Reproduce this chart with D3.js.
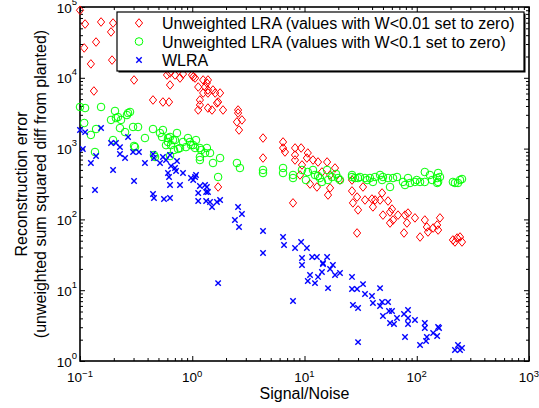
<!DOCTYPE html>
<html>
<head>
<meta charset="utf-8">
<script src="https://cdn.jsdelivr.net/npm/d3@7"></script>
<style>
  body { margin: 0; background: #fff; }
  svg { font-family: "Liberation Sans", Arial, sans-serif; }
</style>
</head>
<body>
<div class="chart"></div>
<script>
// axis ticks (powers of ten) and their exponent labels
var xMajor = [0.1, 1, 10, 100, 1000],
    xExp = ["\u22121", "0", "1", "2", "3"];
var yMajor = [1, 10, 100, 1000, 1e4, 1e5],
    yExp = ["0", "1", "2", "3", "4", "5"];

var legendLabels = [
    "Unweighted LRA (values with W<0.01 set to zero)",
    "Unweighted LRA (values with W<0.1 set to zero)",
    "WLRA"
];

// Unweighted LRA, W<0.01 zeroed (red diamonds)
var lra001SN = [0.1, 0.111, 0.154, 0.197, 0.189, 0.139, 0.109, 0.193, 0.125, 0.303,
    0.133, 0.447, 0.548, 0.621, 0.596, 0.634, 0.702, 0.778, 0.827, 0.995,
    1.02, 1.06, 0.634, 1.25, 1.35, 1.38, 1.13, 1.30, 1.38, 1.25,
    1.53, 1.38, 1.60, 1.77, 1.17, 1.17, 1.13, 1.38, 1.50, 1.66,
    1.70, 1.88, 2.56, 2.56, 2.50, 2.77, 2.61, 1.70, 4.27, 4.27,
    6.44, 6.44, 6.70, 8.24, 9.33, 8.23, 8.23, 10.7, 10.5, 11.9,
    13.2, 15.9, 9.50, 18.7, 14.3, 16.9, 11.2, 12.9, 16.9, 16.2,
    7.90, 9.12, 20.7, 26.5, 26.5, 33.2, 29.4, 27.0, 30.0, 34.6,
    39.9, 40.7, 42.5, 47.1, 49.1, 55.5, 50.0, 57.8, 60.2, 57.8,
    61.5, 68.1, 78.6, 83.6, 81.8, 96.4, 107, 77.0, 29.4, 118,
    123, 126, 140, 152, 161, 155, 210, 229, 243, 253, 219];
var lra001Err = [90000, 57500, 61400, 59400, 44400, 32000, 26400, 17800, 15700, 9310,
    6510, 4860, 4550, 4550, 10950, 11700, 10950, 9930, 11300, 10950,
    10300, 9930, 7910, 9310, 8450, 9310, 7410, 7410, 6720, 6100,
    6720, 6100, 6100, 6100, 4860, 4130, 3510, 3740, 3510, 4410,
    4550, 3510, 3510, 3180, 2380, 2540, 1830, 287, 1410, 736,
    1240, 1020, 895, 1020, 1020, 812, 690, 867, 736, 690,
    647, 647, 587, 532, 467, 424, 316, 287, 278, 221,
    171, 424, 360, 360, 252, 287, 207, 171, 136, 188,
    194, 150, 188, 188, 236, 182, 115, 127, 140, 89,
    98, 115, 115, 123, 89, 105, 56.4, 64.3, 64.3, 98,
    78.1, 66.4, 75.6, 83.3, 105, 70.8, 51.2, 54.6, 56.4, 48.0, 48.0];

// Unweighted LRA, W<0.1 zeroed (green circles)
var lra01SN = [0.100, 0.111, 0.154, 0.205, 0.268, 0.279, 0.218, 0.209, 0.189, 0.232,
    0.109, 0.139, 0.125, 0.227, 0.297, 0.329, 0.447, 0.548, 0.516, 0.634,
    0.731, 0.702, 0.608, 0.584, 0.647, 0.747, 0.827, 0.975, 1.08, 1.06,
    1.20, 1.30, 1.17, 0.379, 0.197, 0.309, 0.136, 0.456, 0.466, 0.634,
    0.608, 0.674, 0.955, 1.02, 1.17, 1.35, 0.778, 1.44, 1.77, 1.17,
    1.53, 1.70, 2.50, 2.66, 4.27, 4.27, 6.44, 6.44, 7.90, 7.90,
    9.50, 10.7, 11.9, 12.4, 13.7, 15.9, 17.6, 19.1, 19.9, 14.3,
    20.7, 26.5, 26.5, 30.0, 34.6, 38.3, 42.5, 47.1, 49.1, 55.5,
    57.8, 66.7, 75.4, 78.6, 83.6, 96.4, 107, 118, 118, 131,
    152, 155, 155, 210, 219, 243, 253, 0.262, 0.252, 0.303,
    28.2, 40.7, 61.5, 137, 161, 31.2, 36.1, 50.0, 87.1, 100,
    152, 233, 10.3, 13.2, 16.2, 0.879, 0.688, 0.538, 0.916];
var lra01Err = [3870, 3740, 3870, 3400, 3180, 3290, 2790, 2700, 2540, 2540,
    2300, 1890, 1560, 1950, 2020, 2020, 1890, 1830, 1660, 1460,
    1660, 1320, 1240, 1120, 1120, 987, 1240, 1120, 1320, 1020,
    955, 867, 761, 1410, 1320, 1050, 895, 812, 761, 786,
    1410, 1320, 1240, 1120, 1020, 1020, 1020, 867, 736, 690,
    626, 397, 626, 532, 499, 452, 532, 452, 424, 384,
    499, 467, 499, 424, 384, 499, 397, 438, 384, 338,
    360, 424, 397, 384, 384, 384, 397, 424, 360, 384,
    287, 397, 338, 306, 384, 338, 338, 338, 467, 424,
    384, 452, 338, 338, 327, 360, 372, 2980, 1710, 1090,
    384, 338, 384, 360, 397, 397, 360, 397, 327, 360,
    327, 327, 360, 410, 360, 1050, 955, 1460, 1410];

// WLRA (blue crosses)
var wlraSN = [0.100, 0.111, 0.154, 0.189, 0.209, 0.227, 0.268, 0.106, 0.139, 0.227,
    0.252, 0.297, 0.335, 0.125, 0.197, 0.379, 0.447, 0.456, 0.516, 0.548,
    0.584, 0.634, 0.647, 0.702, 0.731, 0.717, 0.608, 0.621, 0.827, 0.634,
    0.778, 0.975, 1.06, 1.08, 1.02, 1.17, 1.30, 1.13, 1.33, 1.33,
    0.303, 0.136, 0.447, 0.456, 0.560, 0.634, 1.13, 1.35, 1.38, 1.44,
    1.66, 1.77, 1.50, 2.56, 2.77, 2.40, 2.61, 4.27, 6.44, 6.57,
    8.24, 9.33, 10.5, 11.7, 9.50, 12.9, 15.9, 9.50, 14.6, 17.9,
    4.27, 1.70, 7.90, 11.2, 10.7, 12.4, 13.2, 14.3, 14.6, 16.9,
    18.7, 20.7, 16.2, 26.5, 26.5, 29.4, 27.0, 30.0, 30.0, 33.2,
    34.6, 39.9, 40.7, 47.1, 47.1, 49.1, 55.5, 56.6, 60.2, 50.0,
    57.8, 62.7, 66.7, 77.0, 83.6, 83.6, 83.6, 78.6, 96.4, 107,
    118, 118, 123, 121, 140, 152, 155, 158, 219, 233, 253, 243];
var wlraErr = [1830, 1710, 1950, 1200, 1200, 1050, 1460, 987, 786, 839,
    736, 895, 895, 626, 499, 626, 839, 736, 626, 761,
    690, 812, 568, 532, 668, 483, 452, 397, 452, 306,
    306, 384, 397, 424, 360, 296, 306, 236, 244, 182,
    349, 260, 228, 201, 194, 201, 182, 287, 244, 176,
    176, 188, 150, 150, 119, 98, 78.1, 68.6, 56.4, 43.5,
    39.5, 48.0, 39.5, 29.4, 28.5, 29.4, 29.4, 22.7, 24.2, 22.7,
    33.5, 12.6, 7.04, 16.4, 13.5, 12.6, 15.4, 18.1, 23.4, 19.9,
    16.4, 17.5, 10.7, 15.4, 10.4, 10.4, 6.18, 5.60, 1.85, 12.2,
    8.84, 8.28, 6.59, 10.7, 5.98, 6.81, 6.81, 5.08, 5.08, 4.32,
    3.44, 3.33, 4.05, 4.61, 5.25, 4.05, 3.33, 2.18, 3.79, 1.68,
    3.44, 2.92, 2.18, 1.92, 2.49, 2.25, 3.02, 2.92, 1.43, 1.68, 1.53, 1.43];

var margin = {top: 7, right: 10, bottom: 47, left: 80},
    viewbox_width = 539,
    viewbox_height = 408,
    width = viewbox_width - margin.left - margin.right,
    height = viewbox_height - margin.top - margin.bottom;

var xScale = d3.scaleLog().domain([0.1, 1000]).range([0, width]),
    yScale = d3.scaleLog().domain([1, 1e5]).range([height, 0]);

// minor ticks 2..9 inside each decade
function minorTicks(major) {
    var out = [];
    for (var i = 0; i < major.length - 1; i++) {
        for (var m = 2; m <= 9; m++) out.push(major[i] * m);
    }
    return out;
}

var svg0 = d3.select(".chart").append("svg")
    .attr("width", viewbox_width)
    .attr("height", viewbox_height);
var svg = svg0.append("g")
    .attr("transform", "translate(" + margin.left + "," + margin.top + ")");

// ticks on all four sides, pointing inwards
function addAxis(axisFn, scale, major, transform) {
    [[major, 5], [minorTicks(major), 3]].forEach(function(t) {
        var g = svg.append("g")
            .attr("transform", transform)
            .call(axisFn(scale).tickValues(t[0]).tickSize(-t[1]).tickFormat(""));
        g.select(".domain").remove();
        g.selectAll(".tick line").attr("stroke", "#000").attr("stroke-width", 1);
    });
}
addAxis(d3.axisBottom, xScale, xMajor, "translate(0," + height + ")");
addAxis(d3.axisTop, xScale, xMajor, "translate(0,0)");
addAxis(d3.axisLeft, yScale, yMajor, "translate(0,0)");
addAxis(d3.axisRight, yScale, yMajor, "translate(" + width + ",0)");

svg.append("rect")
    .attr("width", width).attr("height", height)
    .attr("fill", "none").attr("stroke", "#000").attr("stroke-width", 1.6);

// tick labels 10^k
var xl = svg.selectAll(".xlab").data(xMajor).enter().append("text")
    .attr("class", "xlab")
    .attr("x", function(d) { return xScale(d); })
    .attr("y", height + 21)
    .attr("text-anchor", "middle")
    .style("font-size", "13.5px");
xl.append("tspan").text("10");
xl.append("tspan").attr("dy", -5.5).style("font-size", "9.5px")
    .text(function(d, i) { return xExp[i]; });

var yl = svg.selectAll(".ylab").data(yMajor).enter().append("text")
    .attr("class", "ylab")
    .attr("x", -3)
    .attr("y", function(d) { return yScale(d) + 5.5; })
    .attr("text-anchor", "end")
    .style("font-size", "13.5px");
yl.append("tspan").text("10");
yl.append("tspan").attr("dy", -8).style("font-size", "9.5px")
    .text(function(d, i) { return yExp[i]; });

// axis titles
svg0.append("text")
    .attr("x", margin.left + width / 2).attr("y", 399)
    .attr("text-anchor", "middle").style("font-size", "16px")
    .text("Signal/Noise");
svg0.append("text")
    .attr("transform", "translate(26.5," + (margin.top + height / 2) + ")rotate(-90)")
    .attr("text-anchor", "middle").style("font-size", "16px")
    .text("Reconstruction error");
svg0.append("text")
    .attr("transform", "translate(45.5," + (margin.top + height / 2) + ")rotate(-90)")
    .attr("text-anchor", "middle").style("font-size", "16px")
    .text("(unweighted sum squared diff from planted)");

// markers
var diamond = "M0,-4.3L3.6,0L0,4.3L-3.6,0Z",
    cross = "M-2.7,-2.7L2.7,2.7M-2.7,2.7L2.7,-2.7";

function drawDiamonds(g, pts) {
    g.selectAll("path.dm").data(pts).enter().append("path")
        .attr("class", "dm")
        .attr("d", diamond)
        .attr("transform", function(d) { return "translate(" + d[0] + "," + d[1] + ")"; })
        .attr("fill", "none").attr("stroke", "#ff0000").attr("stroke-width", 1);
}
function drawCircles(g, pts) {
    g.selectAll("circle.cc").data(pts).enter().append("circle")
        .attr("class", "cc")
        .attr("cx", function(d) { return d[0]; })
        .attr("cy", function(d) { return d[1]; })
        .attr("r", 3.8)
        .attr("fill", "none").attr("stroke", "#00ff00").attr("stroke-width", 1);
}
function drawCrosses(g, pts) {
    g.selectAll("path.cx").data(pts).enter().append("path")
        .attr("class", "cx")
        .attr("d", cross)
        .attr("transform", function(d) { return "translate(" + d[0] + "," + d[1] + ")"; })
        .attr("fill", "none").attr("stroke", "#0000ff").attr("stroke-width", 1.4);
}

function toPx(xs, ys) {
    return d3.zip(xs, ys).map(function(d) { return [xScale(d[0]), yScale(d[1])]; });
}

drawDiamonds(svg.append("g"), toPx(lra001SN, lra001Err));
drawCircles(svg.append("g"), toPx(lra01SN, lra01Err));
drawCrosses(svg.append("g"), toPx(wlraSN, wlraErr));

// legend
var lg = svg0.append("g").attr("transform", "translate(117,12)");
lg.append("rect").attr("x", 1.5).attr("y", 1.5).attr("width", 407).attr("height", 59)
    .attr("fill", "#000");
lg.append("rect").attr("width", 407).attr("height", 59)
    .attr("fill", "#fff").attr("stroke", "#000").attr("stroke-width", 1.2);
var rowY = [11, 29.5, 48];
drawDiamonds(lg.append("g"), [[22, rowY[0]]]);
drawCircles(lg.append("g"), [[22, rowY[1]]]);
drawCrosses(lg.append("g"), [[22, rowY[2]]]);
lg.selectAll("text.lt").data(legendLabels).enter().append("text")
    .attr("class", "lt")
    .attr("x", 45)
    .attr("y", function(d, i) { return rowY[i] + 6; })
    .style("font-size", "16px")
    .text(function(d) { return d; });
</script>
</body>
</html>
